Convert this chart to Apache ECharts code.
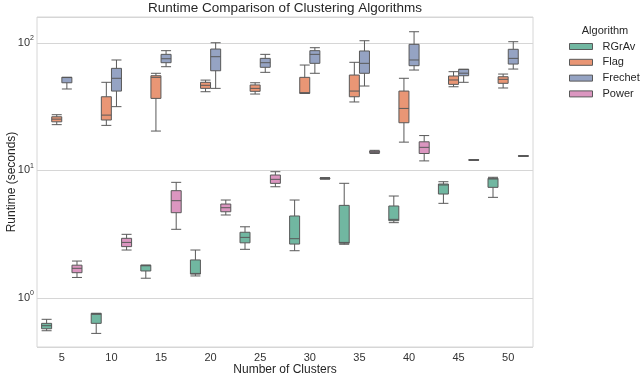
<!DOCTYPE html>
<html lang="en">
  <head>
    <meta charset="UTF-8" />
    <title>Runtime Comparison of Clustering Algorithms</title>
    <script src="https://cdn.jsdelivr.net/npm/echarts@6/dist/echarts.min.js"></script>
    <style>
      html, body { margin: 0; padding: 0; background: #fff; }
    </style>
  </head>
  <body>
    <div id="box" style="width: 640px; height: 376px"></div>
    <script>
      // number of clusters
      var clusters = ["5", "10", "15", "20", "25", "30", "35", "40", "45", "50"];
      var algorithms = ["RGrAv", "Flag", "Frechet", "Power"];

      // [min, q1, median, q3, max] per cluster count, seconds
      var rgrav = [
        [0.554, 0.574, 0.607, 0.633, 0.681],
        [0.528, 0.633, 0.745, 0.758, 0.758],
        [1.43, 1.63, 1.79, 1.81, 1.81],
        [1.49, 1.54, 1.56, 1.99, 2.38],
        [2.41, 2.71, 2.99, 3.28, 3.62],
        [2.35, 2.65, 2.92, 4.4, 5.87],
        [2.64, 2.69, 2.73, 5.33, 7.94],
        [3.9, 4.04, 4.14, 5.27, 6.31],
        [5.53, 6.54, 7.7, 7.84, 8.17],
        [6.16, 7.38, 8.58, 8.69, 8.85],
      ];
      var flag = [
        [22.9, 24.1, 25.3, 26.4, 27.4],
        [22.6, 24.9, 27.2, 37.9, 49.2],
        [20.4, 36.8, 53.8, 55.4, 57.9],
        [41.5, 44.1, 46.6, 49.2, 51.2],
        [39.8, 41.8, 44.1, 46.9, 48.8],
        [40.3, 40.3, 40.8, 53.8, 67.2],
        [34.5, 37.9, 42.0, 56.1, 70.6],
        [16.7, 23.7, 30.7, 42.0, 52.9],
        [45.4, 47.4, 51.3, 55.1, 59.6],
        [44.4, 48.3, 51.9, 54.4, 57.1],
      ];
      var frechet = [
        [43.6, 48.8, 53.6, 53.8, 53.8],
        [31.7, 42.0, 52.9, 63.3, 73.6],
        [65.2, 70.1, 75.3, 81.5, 87.1],
        [44.1, 60.6, 78.1, 89.7, 100.5],
        [58.9, 64.5, 70.1, 75.8, 81.5],
        [57.9, 69.3, 81.5, 87.1, 91.9],
        [46.0, 57.9, 69.3, 86.6, 104.2],
        [61.4, 66.4, 73.6, 97.7, 122.6],
        [49.2, 55.4, 58.0, 62.2, 62.2],
        [62.5, 68.4, 75.8, 89.3, 102.4],
      ];
      var power = [
        [1.45, 1.58, 1.71, 1.81, 1.95],
        [2.38, 2.53, 2.73, 2.94, 3.16],
        [3.46, 4.67, 5.8, 6.95, 8.08],
        [4.48, 4.75, 5.11, 5.46, 5.87],
        [7.46, 7.93, 8.53, 9.22, 9.79],
        [8.55, 8.62, 8.69, 8.75, 8.8],
        [13.6, 13.8, 14.0, 14.2, 14.4],
        [11.9, 13.6, 15.2, 16.8, 18.8],
        [12.0, 12.05, 12.1, 12.15, 12.2],
        [12.9, 12.95, 13.0, 13.05, 13.1],
      ];

      // seaborn Set2, desaturated like boxplot does
      var colors = ["#71b7a1", "#e99675", "#95a3c3", "#db96c0"];
      var edge = "#595959";
      var font = "Liberation Sans, Arial, sans-serif";

      var myChart = echarts.init(document.getElementById("box"));

      function makeSeries(name, data, i) {
        return {
          name: name,
          type: "boxplot",
          data: data,
          boxWidth: [10, 10],
          itemStyle: { color: colors[i], borderColor: edge, borderWidth: 1 },
          emphasis: { disabled: true },
        };
      }

      function getoption() {
        return {
          animation: false,
          textStyle: { fontFamily: font },
          graphic: [
            {
              type: "text",
              x: 285,
              y: 1,
              style: {
                text: "Runtime Comparison of Clustering Algorithms",
                fontSize: 13.5,
                fontFamily: font,
                fill: "#262626",
                align: "center",
              },
            },
            {
              type: "text",
              x: 605,
              y: 25,
              style: {
                text: "Algorithm",
                fontSize: 11,
                fontFamily: font,
                fill: "#262626",
                align: "center",
              },
            },
          ],
          legend: {
            data: algorithms.map(function (name, i) {
              return { name: name, itemStyle: { color: colors[i], borderColor: edge, borderWidth: 1 } };
            }),
            orient: "vertical",
            left: 569,
            top: 40,
            padding: 0,
            icon: "rect",
            itemWidth: 23,
            itemHeight: 6,
            itemGap: 2.8,
            formatter: function (name) {
              return "{g|}{t|" + name + "}";
            },
            textStyle: {
              fontSize: 11,
              color: "#262626",
              lineHeight: 13,
              fontFamily: font,
              rich: {
                g: { width: 5 },
                t: { fontSize: 11, color: "#262626", lineHeight: 13, fontFamily: font },
              },
            },
            selectedMode: false,
          },
          grid: {
            left: 37,
            right: 107,
            top: 17,
            bottom: 29,
            outerBoundsMode: "none",
            show: true,
            borderColor: "#d6d6d6",
            borderWidth: 1,
          },
          xAxis: {
            type: "category",
            data: clusters,
            name: "Number of Clusters",
            nameLocation: "middle",
            nameGap: 17,
            nameMoveOverlap: false,
            nameTextStyle: { fontSize: 12, color: "#262626" },
            axisLine: { show: false },
            axisTick: { show: false },
            axisLabel: { fontSize: 11, color: "#333", margin: 5 },
            splitLine: { show: false },
          },
          yAxis: {
            type: "log",
            logBase: 10,
            min: 0.413,
            max: 160,
            name: "Runtime (seconds)",
            nameLocation: "middle",
            nameGap: 19,
            nameMoveOverlap: false,
            nameTextStyle: { fontSize: 12, color: "#262626" },
            axisLine: { show: false },
            axisTick: { show: false },
            splitLine: { show: true, lineStyle: { color: "#d6d6d6", width: 1 } },
            axisLabel: {
              margin: 3,
              showMinLabel: false,
              showMaxLabel: false,
              padding: [0, 0, 3, 0],
              formatter: function (v) {
                var e = Math.log10(v);
                if (Math.abs(e - Math.round(e)) > 1e-6) return "";
                return "{b|10}{s|" + Math.round(e) + "}";
              },
              rich: {
                b: { fontSize: 11, lineHeight: 13, color: "#333", verticalAlign: "bottom", fontFamily: font },
                s: { fontSize: 7, lineHeight: 8, color: "#333", verticalAlign: "top", padding: [0, 0, 8, 0], fontFamily: font },
              },
            },
          },
          series: [
            makeSeries("RGrAv", rgrav, 0),
            makeSeries("Flag", flag, 1),
            makeSeries("Frechet", frechet, 2),
            makeSeries("Power", power, 3),
          ],
        };
      }

      var option = getoption();
      myChart.setOption(option);
    </script>
  </body>
</html>
